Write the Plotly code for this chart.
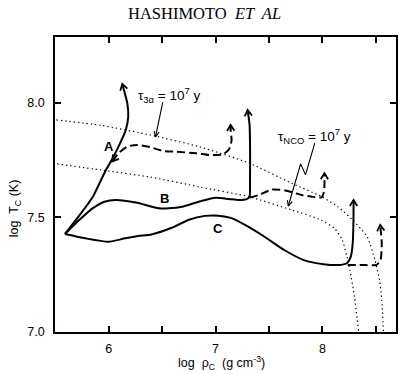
import math
import plotly.graph_objects as go

# ---- evolutionary tracks in the (log rho_c, log T_c) plane ----
track_a_x = [5.591, 5.740, 5.852, 5.966, 6.046, 6.120, 6.160, 6.183, 6.174, 6.151, 6.127]
track_a_y = [7.428, 7.518, 7.591, 7.700, 7.766, 7.838, 7.882, 7.940, 7.999, 8.042, 8.083]

track_b_x = [5.591, 5.724, 5.849, 5.960, 6.069, 6.255, 6.470, 6.563, 6.687, 6.843, 6.999,
             7.123, 7.216, 7.296, 7.318, 7.322, 7.323, 7.318, 7.300]
track_b_y = [7.428, 7.489, 7.540, 7.569, 7.576, 7.565, 7.540, 7.540, 7.547, 7.569, 7.586,
             7.581, 7.576, 7.581, 7.591, 7.664, 7.795, 7.904, 7.969]

track_c_x = [5.591, 5.782, 5.998, 6.154, 6.277, 6.401, 6.590, 6.750, 6.900, 7.030, 7.150,
             7.304, 7.458, 7.642, 7.826, 8.011, 8.165, 8.228, 8.265, 8.283, 8.290, 8.291]
track_c_y = [7.428, 7.409, 7.394, 7.409, 7.419, 7.426, 7.455, 7.490, 7.507, 7.508, 7.497,
             7.460, 7.416, 7.358, 7.314, 7.296, 7.293, 7.300, 7.329, 7.387, 7.489, 7.576]

# dashed branches
branch_a_x = [6.035, 6.090, 6.172, 6.265, 6.389, 6.512, 6.637, 6.822, 6.946, 7.070, 7.126, 7.150, 7.142, 7.141]
branch_a_y = [7.745, 7.780, 7.809, 7.817, 7.807, 7.790, 7.787, 7.780, 7.773, 7.776, 7.798, 7.838, 7.874, 7.904]

branch_b_x = [7.319, 7.403, 7.527, 7.651, 7.806, 7.899, 7.992, 8.014, 8.019, 8.018]
branch_b_y = [7.587, 7.598, 7.622, 7.618, 7.598, 7.591, 7.588, 7.613, 7.649, 7.693]

branch_c_x = [8.236, 8.366, 8.506, 8.543, 8.555, 8.548, 8.540]
branch_c_y = [7.293, 7.293, 7.293, 7.314, 7.387, 7.430, 7.467]

# timescale contours (dotted)
tau_3a_x = [5.510, 5.931, 6.391, 6.854, 7.315, 7.714, 7.992, 8.144, 8.297, 8.418, 8.491, 8.534, 8.555, 8.571]
tau_3a_y = [7.926, 7.902, 7.860, 7.808, 7.737, 7.649, 7.591, 7.547, 7.482, 7.416, 7.314, 7.227, 7.140, 7.000]

tau_nco_x = [5.518, 5.932, 6.393, 6.854, 7.310, 7.710, 7.986, 8.111, 8.185, 8.229, 8.257, 8.299, 8.339]
tau_nco_y = [7.734, 7.707, 7.676, 7.633, 7.591, 7.533, 7.489, 7.453, 7.402, 7.329, 7.271, 7.154, 7.000]

# leader lines for the contour labels
lead_3a_x = [6.506, 6.438]
lead_3a_y = [8.004, 7.852]
lead_nco_x = [7.928, 7.841, 7.796, 7.680]
lead_nco_y = [7.825, 7.686, 7.734, 7.550]

x_ticks = [6, 7, 8]
x_tick_text = ["6", "7", "8"]
y_ticks = [7.0, 7.5, 8.0]
y_tick_text = ["7.0", "7.5", "8.0"]

# ---- page geometry ----
W, H = 400, 374
M = dict(l=55, r=2, t=37, b=42)
X_RANGE = [5.4977, 8.688]
Y_RANGE = [7.0, 8.288]
sx = (W - M["l"] - M["r"]) / (X_RANGE[1] - X_RANGE[0])
sy = (H - M["t"] - M["b"]) / (Y_RANGE[1] - Y_RANGE[0])


def chevron(xs, ys, at_start=False, length=7.0, half_angle=32.0):
    """Open arrowhead at one end of a polyline, built in screen pixels."""
    if at_start:
        tx, ty, px, py = xs[0], ys[0], xs[1], ys[1]
    else:
        tx, ty, px, py = xs[-1], ys[-1], xs[-2], ys[-2]
    dx, dy = (tx - px) * sx, (ty - py) * sy
    n = math.hypot(dx, dy)
    ux, uy = dx / n, dy / n
    wings = []
    for s in (1, -1):
        a = math.radians(half_angle * s)
        bx = -ux * math.cos(a) + uy * math.sin(a)
        by = -ux * math.sin(a) - uy * math.cos(a)
        wings.append((tx + length * bx / sx, ty + length * by / sy))
    return ([wings[0][0], tx, wings[1][0], None],
            [wings[0][1], ty, wings[1][1], None])


def merge(*heads):
    hx, hy = [], []
    for a, b in heads:
        hx += a
        hy += b
    return hx, hy


fig = go.Figure()

dot_style = dict(color="black", width=1.2, dash="1.3px,3px")
for xs, ys in [(tau_3a_x, tau_3a_y), (tau_nco_x, tau_nco_y)]:
    fig.add_trace(go.Scatter(x=xs, y=ys, mode="lines", line=dict(**dot_style, shape="spline", smoothing=0.6)))

for xs, ys in [(track_a_x, track_a_y), (track_b_x, track_b_y), (track_c_x, track_c_y)]:
    fig.add_trace(go.Scatter(x=xs, y=ys, mode="lines",
                             line=dict(color="black", width=2, shape="spline", smoothing=0.6)))

for xs, ys in [(branch_a_x, branch_a_y), (branch_b_x, branch_b_y), (branch_c_x, branch_c_y)]:
    fig.add_trace(go.Scatter(x=xs, y=ys, mode="lines",
                             line=dict(color="black", width=2, dash="8px,4px", shape="spline", smoothing=0.6)))

# leader lines
for xs, ys in [(lead_3a_x, lead_3a_y), (lead_nco_x, lead_nco_y)]:
    fig.add_trace(go.Scatter(x=xs, y=ys, mode="lines", line=dict(color="black", width=1.1)))

# arrowheads
hx, hy = merge(
    chevron(track_a_x, track_a_y),
    chevron(track_b_x, track_b_y),
    chevron(track_c_x, track_c_y),
    chevron(branch_a_x, branch_a_y),
    chevron(branch_a_x, branch_a_y, at_start=True),
    chevron(branch_b_x, branch_b_y),
    chevron(branch_c_x, branch_c_y),
)
fig.add_trace(go.Scatter(x=hx, y=hy, mode="lines", line=dict(color="black", width=1.8)))
lx, ly = merge(
    chevron(lead_3a_x, lead_3a_y, length=6, half_angle=25),
    chevron(lead_nco_x, lead_nco_y, length=6, half_angle=25),
)
fig.add_trace(go.Scatter(x=lx, y=ly, mode="lines", line=dict(color="black", width=1.1)))

sans = "Liberation Sans, Arial, sans-serif"

# track letters
for txt, x, y in [("A", 6.001, 7.810), ("B", 6.519, 7.583), ("C", 7.023, 7.453)]:
    fig.add_annotation(x=x, y=y, text="<b>%s</b>" % txt, showarrow=False,
                       font=dict(family=sans, size=13, color="black"))

fig.add_annotation(x=6.566, y=8.035, text="τ<sub>3α</sub> = 10<sup>7</sup> y", showarrow=False,
                   font=dict(family=sans, size=13.5, color="black"))
fig.add_annotation(x=7.925, y=7.856, text="τ<sub>NCO</sub> = 10<sup>7</sup> y", showarrow=False,
                   font=dict(family=sans, size=13.5, color="black"))

# running head
fig.add_annotation(xref="paper", yref="paper", x=0.437, y=1.078, text="HASHIMOTO  <i>ET  AL</i>",
                   showarrow=False, xanchor="center", yanchor="middle",
                   font=dict(family="Liberation Serif, Times New Roman, serif", size=16.5, color="black"))

# axis titles
fig.add_annotation(xref="paper", yref="paper", x=0.487, y=-0.105,
                   text="log  ρ<sub>C</sub>  (g cm<sup>-3</sup>)", showarrow=False,
                   xanchor="center", yanchor="middle",
                   font=dict(family=sans, size=12.5, color="black"))
fig.add_annotation(xref="paper", yref="paper", x=-0.117, y=0.42,
                   text="log  T<sub>C</sub> (K)", showarrow=False, textangle=-90,
                   xanchor="center", yanchor="middle",
                   font=dict(family=sans, size=12.5, color="black"))

axis_common = dict(showline=True, linecolor="black", linewidth=1.6, mirror="ticks",
                   ticks="inside", ticklen=6, tickwidth=1.5, tickcolor="black",
                   showgrid=False, zeroline=False,
                   tickfont=dict(family=sans, size=12.5, color="black"))

fig.update_layout(
    width=W, height=H, margin=M,
    showlegend=False,
    plot_bgcolor="white", paper_bgcolor="white",
    xaxis=dict(range=X_RANGE, tickvals=x_ticks, ticktext=x_tick_text, ticklabelstandoff=4,
               minor=dict(ticks="inside", ticklen=6, tickwidth=1.5, tickcolor="black",
                          tick0=6, dtick=0.5, showgrid=False),
               **axis_common),
    yaxis=dict(range=Y_RANGE, tickvals=y_ticks, ticktext=y_tick_text, ticklabelstandoff=6, **axis_common),
)

fig.write_html("out.html")
